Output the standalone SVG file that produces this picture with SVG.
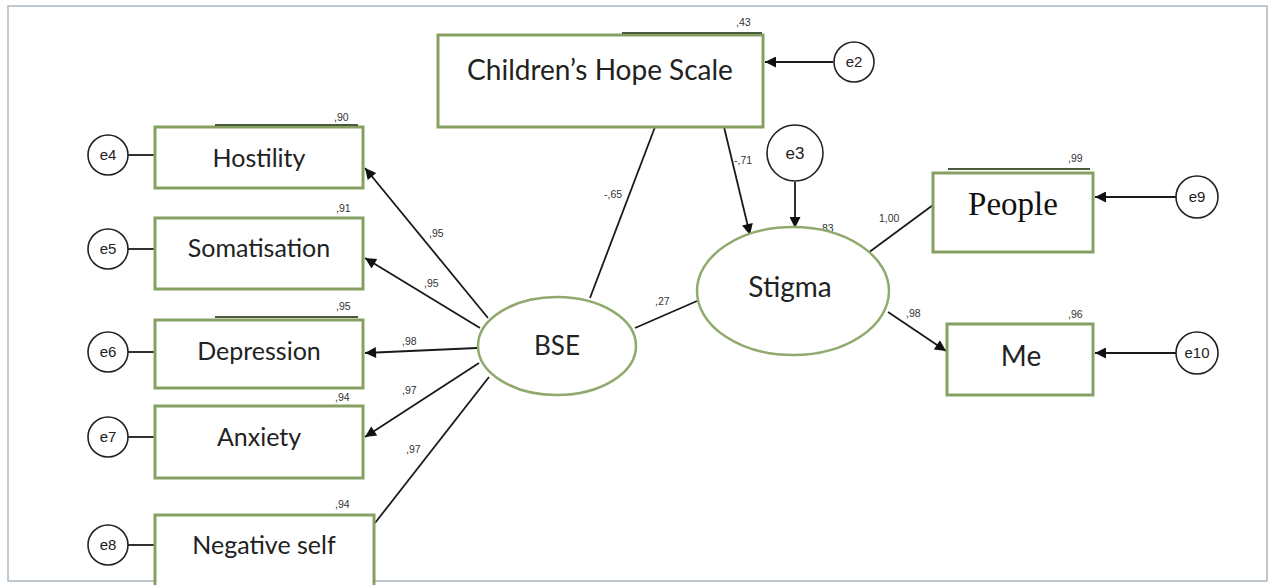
<svg xmlns="http://www.w3.org/2000/svg" width="1269" height="585" viewBox="0 0 1269 585">
<defs>
<marker id="ahL" viewBox="0 0 10 10" refX="10" refY="5" markerWidth="15" markerHeight="11" markerUnits="userSpaceOnUse" orient="auto">
<path d="M0,0 L10,5 L0,10 z" fill="#111"/>
</marker>
</defs>
<style>
.box{fill:#fff;stroke:#86a064;stroke-width:3}
.lat{fill:#fff;stroke:#8faa6c;stroke-width:2.5}
.err{fill:#fff;stroke:#222;stroke-width:1.6}
.dbl{stroke:#4a5a3a;stroke-width:2;fill:none}
.lbl{font-family:Lato,"Open Sans",sans-serif;font-size:25px;fill:#222;text-anchor:middle}
.ser{font-family:"Liberation Serif",serif;font-size:33px;fill:#111;text-anchor:middle}
.etx{font-family:"Liberation Sans",Arial,sans-serif;font-size:15px;fill:#222;text-anchor:middle}
.num{font-family:"Liberation Sans",Arial,sans-serif;font-size:10.5px;fill:#333}
.c{stroke:#1a1a1a;stroke-width:1.8;fill:none}
.ca{stroke:#1a1a1a;stroke-width:1.8;fill:none;marker-end:url(#ahL)}
</style>
<rect x="0" y="0" width="1269" height="585" fill="#fff"/>
<rect x="8" y="6" width="1259" height="575" fill="none" stroke="#a9b6c2" stroke-width="1.5"/>

<g id="connectors">
<line class="c" x1="128" y1="155" x2="155" y2="155"/>
<line class="c" x1="128" y1="249" x2="155" y2="249"/>
<line class="c" x1="128" y1="352" x2="155" y2="352"/>
<line class="c" x1="128" y1="437" x2="155" y2="437"/>
<line class="c" x1="128" y1="545" x2="155" y2="545"/>
<line class="ca" x1="488" y1="318" x2="365" y2="168"/>
<line class="ca" x1="480" y1="328" x2="365" y2="258"/>
<line class="ca" x1="477" y1="348" x2="365" y2="353"/>
<line class="ca" x1="479" y1="363" x2="365" y2="437"/>
<line class="c" x1="489" y1="377" x2="375" y2="523"/>
<line class="c" x1="655" y1="127" x2="590" y2="298"/>
<line class="ca" x1="724" y1="127" x2="750" y2="235"/>
<line class="c" x1="635" y1="328" x2="697" y2="301"/>
<line class="ca" x1="795" y1="182" x2="795" y2="228"/>
<line class="c" x1="868" y1="253" x2="933" y2="205"/>
<line class="ca" x1="888" y1="312" x2="946" y2="351"/>
<line class="ca" x1="833" y1="62" x2="765" y2="62"/>
<line class="ca" x1="1176" y1="197" x2="1095" y2="197"/>
<line class="ca" x1="1176" y1="353" x2="1095" y2="353"/>
</g>

<g id="labels">
<text class="num" x="334" y="121">,90</text>
<text class="num" x="336" y="212">,91</text>
<text class="num" x="336" y="310">,95</text>
<text class="num" x="335" y="401">,94</text>
<text class="num" x="335" y="508">,94</text>
<text class="num" x="736" y="26">,43</text>
<text class="num" x="1068" y="162">,99</text>
<text class="num" x="1068" y="318">,96</text>
<text class="num" x="822" y="232">83</text>
<text class="num" x="429" y="237">,95</text>
<text class="num" x="424" y="287">,95</text>
<text class="num" x="402" y="345">,98</text>
<text class="num" x="402" y="394">,97</text>
<text class="num" x="406" y="453">,97</text>
<text class="num" x="604" y="198">-,65</text>
<text class="num" x="734" y="164">-,71</text>
<text class="num" x="655" y="305">,27</text>
<text class="num" x="879" y="222">1,00</text>
<text class="num" x="906" y="317">,98</text>
</g>

<g id="hostility">
<rect class="box" x="155" y="127" width="208" height="61"/>
<line class="dbl" x1="215" y1="125" x2="358" y2="125"/>
<text class="lbl" x="259" y="167">Hostility</text>
</g>
<g id="somatisation">
<rect class="box" x="155" y="218" width="208" height="71"/>
<text class="lbl" x="259" y="257">Somatisation</text>
</g>
<g id="depression">
<rect class="box" x="155" y="320" width="208" height="68"/>
<line class="dbl" x1="215" y1="317" x2="358" y2="317"/>
<text class="lbl" x="259" y="360">Depression</text>
</g>
<g id="anxiety">
<rect class="box" x="155" y="406" width="208" height="72"/>
<text class="lbl" x="259" y="446">Anxiety</text>
</g>
<g id="negative-self">
<rect class="box" x="155" y="515" width="219" height="80"/>
<text class="lbl" x="264" y="554">Negative self</text>
</g>
<g id="chs">
<rect class="box" x="438" y="35" width="325" height="92"/>
<line class="dbl" x1="622" y1="33" x2="762" y2="33"/>
<text class="lbl" x="600" y="80" style="font-size:28px">Children’s Hope Scale</text>
</g>
<g id="people">
<rect class="box" x="933" y="173" width="160" height="79"/>
<line class="dbl" x1="948" y1="169" x2="1090" y2="169"/>
<text class="ser" x="1013" y="215">People</text>
</g>
<g id="me">
<rect class="box" x="947" y="324" width="146" height="71"/>
<text class="lbl" x="1021" y="366" style="font-size:28px">Me</text>
</g>
<g id="bse">
<ellipse class="lat" cx="557" cy="346" rx="79" ry="49"/>
<text class="lbl" x="557" y="355" style="font-size:26px">BSE</text>
</g>
<g id="stigma">
<ellipse class="lat" cx="793" cy="291" rx="96" ry="64"/>
<text class="lbl" x="790" y="297" style="font-size:28px">Stigma</text>
</g>
<g id="e2"><circle class="err" cx="854" cy="62" r="20"/><text class="etx" x="854" y="67">e2</text></g>
<g id="e3"><circle class="err" cx="795" cy="153" r="28"/><text class="etx" x="795" y="159" style="font-size:17px">e3</text></g>
<g id="e4"><circle class="err" cx="108" cy="155" r="20"/><text class="etx" x="108" y="160">e4</text></g>
<g id="e5"><circle class="err" cx="108" cy="249" r="20"/><text class="etx" x="108" y="254">e5</text></g>
<g id="e6"><circle class="err" cx="108" cy="352" r="20"/><text class="etx" x="108" y="357">e6</text></g>
<g id="e7"><circle class="err" cx="108" cy="437" r="20"/><text class="etx" x="108" y="442">e7</text></g>
<g id="e8"><circle class="err" cx="108" cy="545" r="20"/><text class="etx" x="108" y="550">e8</text></g>
<g id="e9"><circle class="err" cx="1197" cy="197" r="21"/><text class="etx" x="1197" y="202">e9</text></g>
<g id="e10"><circle class="err" cx="1197" cy="353" r="21"/><text class="etx" x="1197" y="358">e10</text></g>
</svg>
